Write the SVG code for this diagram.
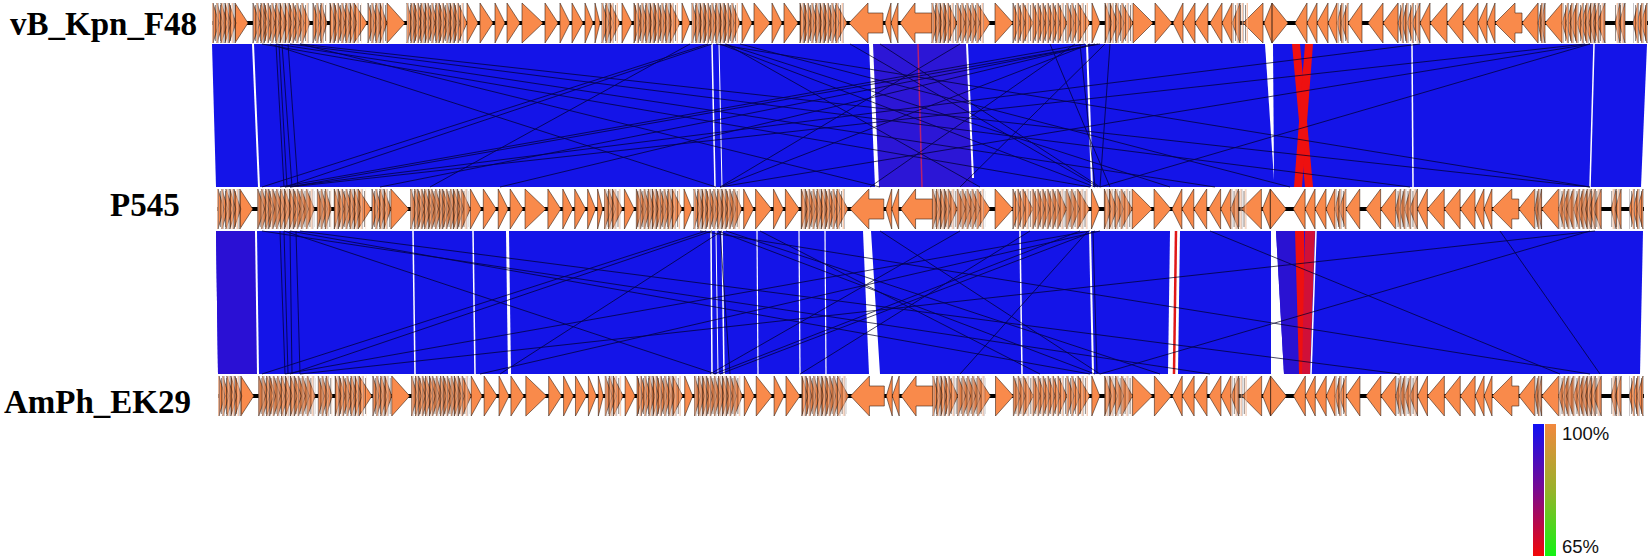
<svg xmlns="http://www.w3.org/2000/svg" xmlns:xlink="http://www.w3.org/1999/xlink" width="1650" height="558" viewBox="0 0 1650 558">
<style>
.lbl{font-family:"Liberation Serif","Times New Roman",serif;font-weight:bold;font-size:33px;fill:#000}
.leg{font-family:"Liberation Sans",Arial,sans-serif;font-size:18.5px;fill:#111}
.gene{fill:#f98a4b;stroke:#3a2418;stroke-width:0.6;stroke-linejoin:miter}
.bb{stroke:#000;stroke-width:4}
.band{fill:#1414e8}
.slit{stroke:#fff;fill:none}
.wgap{fill:#fff}
.red{fill:#ee1010}
.hit{stroke:#00002a;stroke-width:0.9;opacity:0.8;fill:none}
.hatch{fill:url(#hatch)}
</style>
<defs>
<linearGradient id="gBR" x1="0" y1="0" x2="0" y2="1">
<stop offset="0" stop-color="#1010f4"/><stop offset="0.5" stop-color="#7a0a90"/><stop offset="1" stop-color="#f20808"/>
</linearGradient>
<linearGradient id="gOG" x1="0" y1="0" x2="0" y2="1">
<stop offset="0" stop-color="#f2883e"/><stop offset="0.5" stop-color="#98b22a"/><stop offset="1" stop-color="#12f214"/>
</linearGradient>
<pattern id="hatch" patternUnits="userSpaceOnUse" x="0" y="-20" width="5" height="40">
<rect x="1.6" y="0" width="1.4" height="40" fill="#f7b48c" opacity="0.7"/>
<line x1="0.5" y1="2" x2="0.5" y2="38" stroke="#2a1a10" stroke-width="0.6" opacity="0.85"/>
<line x1="3.4" y1="0" x2="3.4" y2="40" stroke="#8c8a92" stroke-width="0.7" opacity="0.8"/>
</pattern>
<g id="genes">
<line class="bb" x1="212" y1="0" x2="1648" y2="0"/>
<path class="gene" d="M213 -20L219 0L213 20ZM217 -20L223 0L217 20ZM221 -20L228 0L221 20ZM225 -20L231 0L225 20ZM229 -20L236 0L229 20ZM235 -20L248 0L235 20Z
M253 -20L260 0L253 20ZM257 -20L264 0L257 20ZM261 -20L268 0L261 20ZM264 -20L270 0L264 20ZM268 -20L275 0L268 20ZM272 -20L279 0L272 20ZM276 -20L283 0L276 20ZM280 -20L287 0L280 20ZM285 -20L292 0L285 20ZM289 -20L296 0L289 20ZM293 -20L300 0L293 20ZM297 -20L304 0L297 20ZM302 -20L310 0L302 20Z
M313 -20L319 0L313 20ZM317 -20L323 0L317 20ZM321 -20L327 0L321 20Z
M330 -20L336 0L330 20ZM334 -20L340 0L334 20ZM338 -20L345 0L338 20ZM342 -20L349 0L342 20ZM346 -20L353 0L346 20ZM350 -20L357 0L350 20ZM354 -20L367 0L354 20Z
M368 -20L374 0L368 20ZM372 -20L378 0L372 20ZM376 -20L383 0L376 20ZM380 -20L387 0L380 20ZM387 -20L405 0L387 20Z
M407 -20L413 0L407 20ZM411 -20L417 0L411 20ZM414 -20L421 0L414 20ZM418 -20L424 0L418 20ZM421 -20L428 0L421 20ZM425 -20L431 0L425 20ZM428 -20L435 0L428 20ZM432 -20L438 0L432 20ZM436 -20L442 0L436 20ZM439 -20L446 0L439 20ZM443 -20L449 0L443 20ZM447 -20L453 0L447 20ZM450 -20L457 0L450 20ZM454 -20L460 0L454 20ZM458 -20L467 0L458 20Z
M467 -20L478 0L467 20ZM480 -20L493 0L480 20ZM495 -20L505 0L495 20ZM507 -20L520 0L507 20ZM522 -20L543 0L522 20ZM545 -20L558 0L545 20ZM560 -20L570 0L560 20ZM572 -20L583 0L572 20ZM585 -20L593 0L585 20ZM595 -20L600 0L595 20Z
M602 -20L609 0L602 20ZM606 -20L613 0L606 20ZM610 -20L620 0L610 20ZM622 -20L632 0L622 20ZM634 -20L640 0L634 20ZM638 -20L644 0L638 20ZM642 -20L648 0L642 20ZM646 -20L652 0L646 20ZM650 -20L656 0L650 20ZM654 -20L660 0L654 20ZM658 -20L664 0L658 20ZM662 -20L668 0L662 20ZM666 -20L672 0L666 20ZM670 -20L680 0L670 20ZM682 -20L690 0L682 20Z
M692 -20L698 0L692 20ZM696 -20L702 0L696 20ZM700 -20L706 0L700 20ZM704 -20L710 0L704 20ZM708 -20L714 0L708 20ZM712 -20L718 0L712 20ZM716 -20L722 0L716 20ZM720 -20L726 0L720 20ZM724 -20L730 0L724 20ZM728 -20L734 0L728 20ZM732 -20L740 0L732 20ZM742 -20L752 0L742 20ZM754 -20L770 0L754 20ZM772 -20L782 0L772 20ZM784 -20L798 0L784 20Z
M800 -20L806 0L800 20ZM804 -20L810 0L804 20ZM808 -20L814 0L808 20ZM812 -20L818 0L812 20ZM816 -20L822 0L816 20ZM820 -20L826 0L820 20ZM824 -20L830 0L824 20ZM828 -20L834 0L828 20ZM832 -20L839 0L832 20ZM836 -20L847 0L836 20Z
M849 0L868 -20L868 -10L883 -10L883 10L868 10L868 20Z
M891 -20L885 0L891 20ZM898 -20L891 0L898 20Z
M900 0L915 -20L915 -10L932 -10L932 10L915 10L915 20Z
M932 -20L938 0L932 20ZM936 -20L942 0L936 20ZM940 -20L946 0L940 20ZM944 -20L950 0L944 20ZM948 -20L957 0L948 20Z
M957 -20L965 0L957 20ZM962 -20L970 0L962 20ZM967 -20L975 0L967 20ZM972 -20L980 0L972 20ZM977 -20L990 0L977 20ZM995 -20L1013 0L995 20Z
M1013 -20L1020 0L1013 20ZM1018 -20L1025 0L1018 20ZM1023 -20L1033 0L1023 20ZM1033 -20L1040 0L1033 20ZM1038 -20L1045 0L1038 20ZM1043 -20L1050 0L1043 20ZM1048 -20L1055 0L1048 20ZM1053 -20L1060 0L1053 20ZM1058 -20L1067 0L1058 20Z
M1067 -20L1074 0L1067 20ZM1072 -20L1080 0L1072 20ZM1078 -20L1090 0L1078 20ZM1092 -20L1100 0L1092 20ZM1105 -20L1112 0L1105 20ZM1110 -20L1118 0L1110 20ZM1116 -20L1124 0L1116 20ZM1122 -20L1133 0L1122 20ZM1133 -20L1153 0L1133 20ZM1155 -20L1172 0L1155 20Z
M1183 -20L1173 0L1183 20ZM1195 -20L1183 0L1195 20ZM1208 -20L1195 0L1208 20ZM1222 -20L1210 0L1222 20ZM1232 -20L1222 0L1232 20ZM1240 -20L1232 0L1240 20ZM1263 -20L1243 0L1263 20ZM1272 -20L1264 0L1272 20ZM1272 -20L1288 0L1272 20Z
M1307 -20L1295 0L1307 20ZM1317 -20L1307 0L1317 20ZM1328 -20L1317 0L1328 20ZM1337 -20L1328 0L1337 20ZM1342 -20L1337 0L1342 20ZM1348 -20L1341 0L1348 20ZM1362 -20L1348 0L1362 20Z
M1383 -20L1368 0L1383 20ZM1398 -20L1383 0L1398 20ZM1403 -20L1398 0L1403 20ZM1407 -20L1402 0L1407 20ZM1413 -20L1407 0L1413 20ZM1420 -20L1412 0L1420 20ZM1430 -20L1420 0L1430 20ZM1447 -20L1430 0L1447 20ZM1463 -20L1447 0L1463 20ZM1478 -20L1463 0L1478 20ZM1487 -20L1478 0L1487 20ZM1495 -20L1487 0L1495 20Z
M1495 0L1515 -20L1515 -10L1522 -10L1522 10L1515 10L1515 20Z
M1538 -20L1522 0L1538 20ZM1542 -20L1538 0L1542 20ZM1545 -20L1541 0L1545 20ZM1562 -20L1545 0L1562 20ZM1568 -20L1562 0L1568 20ZM1572 -20L1566 0L1572 20ZM1577 -20L1570 0L1577 20Z
M1583 -20L1577 0L1583 20ZM1587 -20L1581 0L1587 20ZM1591 -20L1585 0L1591 20ZM1595 -20L1589 0L1595 20ZM1599 -20L1593 0L1599 20ZM1605 -20L1597 0L1605 20Z
M1620 -20L1615 0L1620 20ZM1625 -20L1619 0L1625 20ZM1638 -20L1633 0L1638 20ZM1642 -20L1637 0L1642 20ZM1647 -20L1641 0L1647 20Z"/>
<path class="hatch" d="M212 -20H236V20H212ZM253 -20H310V20H253ZM313 -20H327V20H313ZM330 -20H362V20H330ZM368 -20H386V20H368ZM407 -20H465V20H407ZM602 -20H618V20H602ZM634 -20H678V20H634ZM692 -20H738V20H692ZM800 -20H845V20H800ZM932 -20H956V20H932ZM957 -20H985V20H957ZM1013 -20H1088V20H1013ZM1105 -20H1132V20H1105ZM1232 -20H1248V20H1232ZM1337 -20H1348V20H1337ZM1398 -20H1420V20H1398ZM1538 -20H1545V20H1538ZM1562 -20H1605V20H1562ZM1615 -20H1625V20H1615ZM1633 -20H1647V20H1633Z"/>
</g>
</defs>
<rect width="1650" height="558" fill="#fff"/>

<g id="band_F48_P545">
<polygon class="band" points="212,44 1647,44 1641,187 216,187"/>
<polygon fill="#2c16d6" points="873,44 967,44 973,187 879,187"/>
<line x1="918" y1="44" x2="922" y2="187" stroke="#b8206e" stroke-width="1.5"/>
<line class="slit" x1="253" y1="44" x2="259" y2="187" stroke-width="2"/>
<line class="slit" x1="712" y1="44" x2="715" y2="187" stroke-width="1.5"/>
<line class="slit" x1="719" y1="44" x2="722" y2="187" stroke-width="1"/>
<polygon class="wgap" points="869,44 873,44 879,187 875,187"/>
<line class="slit" x1="967" y1="44" x2="973" y2="178" stroke-width="2"/>
<line class="slit" x1="1087" y1="44" x2="1092" y2="187" stroke-width="2"/>
<polygon class="wgap" points="1265,44 1273,44 1274,180"/>
<line class="slit" x1="1412" y1="44" x2="1413" y2="187" stroke-width="1.5"/>
<line class="slit" x1="1594" y1="44" x2="1590" y2="187" stroke-width="1.5"/>
<polygon class="red" points="1292,44 1300,44 1313,187 1305,187"/>
<polygon class="red" points="1305,44 1313,44 1302,187 1294,187"/>
</g>

<g id="band_P545_EK29">
<polygon class="band" points="216,231 1643,231 1640,374 218,374"/>
<polygon fill="#2a10d4" points="216,231 256,231 258,374 218,374"/>
<line class="slit" x1="256" y1="231" x2="258" y2="374" stroke-width="2"/>
<line class="slit" x1="413" y1="231" x2="415" y2="374" stroke-width="1.5"/>
<line class="slit" x1="473" y1="231" x2="475" y2="374" stroke-width="1.5"/>
<polygon class="wgap" points="506,231 509,231 511,374 508,374"/>
<line class="slit" x1="711" y1="231" x2="712" y2="374" stroke-width="1.5"/>
<line class="slit" x1="716" y1="231" x2="718" y2="374" stroke-width="1"/>
<line class="slit" x1="722" y1="231" x2="724" y2="374" stroke-width="1.5"/>
<line class="slit" x1="757" y1="231" x2="758" y2="374" stroke-width="1.2"/>
<line class="slit" x1="799" y1="231" x2="800" y2="374" stroke-width="1.2"/>
<line class="slit" x1="825" y1="231" x2="826" y2="374" stroke-width="1.2"/>
<polygon class="wgap" points="863,231 871,231 880,374 869,374"/>
<line class="slit" x1="1020" y1="231" x2="1022" y2="374" stroke-width="1.5"/>
<line class="slit" x1="1090" y1="231" x2="1093" y2="374" stroke-width="2"/>
<polygon class="wgap" points="1170,231 1180,231 1178,374 1168,374"/>
<line x1="1176" y1="231" x2="1174" y2="374" stroke="#e01818" stroke-width="2.5"/>
<polygon class="wgap" points="1271,231 1276,231 1284,374 1271,374"/>
<polygon fill="#2a12d2" points="1276,231 1294,231 1299,374 1284,374"/>
<polygon class="red" points="1295,231 1304,231 1306,374 1299,374"/>
<polygon fill="#d01038" points="1305,231 1315,231 1310,374 1302,374"/>
<line class="slit" x1="1316" y1="231" x2="1311" y2="374" stroke-width="1.5"/>
</g>

<g id="connectors">
<g class="hit">
<line x1="276" y1="44" x2="284" y2="187"/>
<line x1="279" y1="44" x2="287" y2="187"/>
<line x1="282" y1="44" x2="292" y2="187"/>
<line x1="288" y1="44" x2="298" y2="187"/>
<line x1="262" y1="44" x2="1090" y2="187"/>
<line x1="270" y1="44" x2="716" y2="187"/>
<line x1="276" y1="44" x2="1215" y2="187"/>
<line x1="300" y1="44" x2="880" y2="187"/>
<line x1="712" y1="44" x2="285" y2="187"/>
<line x1="708" y1="44" x2="262" y2="187"/>
<line x1="720" y1="44" x2="1095" y2="187"/>
<line x1="725" y1="44" x2="1170" y2="187"/>
<line x1="690" y1="44" x2="430" y2="187"/>
<line x1="1085" y1="44" x2="280" y2="187"/>
<line x1="1090" y1="44" x2="720" y2="187"/>
<line x1="1095" y1="44" x2="500" y2="187"/>
<line x1="1100" y1="44" x2="290" y2="187"/>
<line x1="1098" y1="44" x2="380" y2="187"/>
<line x1="1105" y1="44" x2="960" y2="187"/>
<line x1="1110" y1="44" x2="1100" y2="187"/>
<line x1="1080" y1="44" x2="1095" y2="187"/>
<line x1="1075" y1="44" x2="870" y2="187"/>
<line x1="960" y1="44" x2="720" y2="187"/>
<line x1="880" y1="44" x2="1100" y2="187"/>
<line x1="850" y1="44" x2="1098" y2="187"/>
<line x1="1590" y1="44" x2="1100" y2="187"/>
<line x1="1585" y1="44" x2="290" y2="187"/>
<line x1="1590" y1="44" x2="720" y2="187"/>
<line x1="300" y1="44" x2="1590" y2="187"/>
<line x1="1420" y1="44" x2="285" y2="187"/>
<line x1="716" y1="44" x2="1590" y2="187"/>
<line x1="726" y1="44" x2="980" y2="187"/>
<line x1="740" y1="44" x2="1290" y2="187"/>
<line x1="290" y1="44" x2="1410" y2="187"/>
<line x1="1050" y1="44" x2="1110" y2="187"/>
<line x1="280" y1="231" x2="285" y2="374"/>
<line x1="284" y1="231" x2="288" y2="374"/>
<line x1="290" y1="231" x2="292" y2="374"/>
<line x1="296" y1="231" x2="300" y2="374"/>
<line x1="284" y1="231" x2="716" y2="374"/>
<line x1="290" y1="231" x2="1090" y2="374"/>
<line x1="262" y1="231" x2="1210" y2="374"/>
<line x1="712" y1="231" x2="290" y2="374"/>
<line x1="706" y1="231" x2="262" y2="374"/>
<line x1="718" y1="231" x2="1095" y2="374"/>
<line x1="722" y1="231" x2="500" y2="374"/>
<line x1="726" y1="231" x2="1160" y2="374"/>
<line x1="1090" y1="231" x2="285" y2="374"/>
<line x1="1095" y1="231" x2="720" y2="374"/>
<line x1="1100" y1="231" x2="480" y2="374"/>
<line x1="1088" y1="231" x2="960" y2="374"/>
<line x1="1080" y1="231" x2="714" y2="374"/>
<line x1="960" y1="231" x2="710" y2="374"/>
<line x1="880" y1="231" x2="1100" y2="374"/>
<line x1="760" y1="231" x2="1040" y2="374"/>
<line x1="700" y1="231" x2="1590" y2="374"/>
<line x1="1590" y1="231" x2="1100" y2="374"/>
<line x1="1210" y1="231" x2="1560" y2="374"/>
<line x1="1595" y1="231" x2="300" y2="374"/>
<line x1="300" y1="231" x2="1400" y2="374"/>
<line x1="1500" y1="231" x2="1600" y2="374"/>
<line x1="1030" y1="231" x2="800" y2="374"/>
<line x1="720" y1="231" x2="730" y2="374"/>
<line x1="1093" y1="231" x2="1097" y2="374"/>
</g>
</g>

<g id="track_vB_Kpn_F48">
<use href="#genes" xlink:href="#genes" transform="translate(0,23)"/>
<text class="lbl" x="10" y="35">vB_Kpn_F48</text>
</g>
<g id="track_P545">
<use href="#genes" xlink:href="#genes" transform="translate(217,209) scale(0.9937,1) translate(-212,0)"/>
<text class="lbl" x="110" y="216">P545</text>
</g>
<g id="track_AmPh_EK29">
<use href="#genes" xlink:href="#genes" transform="translate(218,396) scale(0.9930,1) translate(-212,0)"/>
<text class="lbl" x="4" y="413">AmPh_EK29</text>
</g>

<g id="legend">
<rect x="1533" y="424" width="11" height="132" fill="url(#gBR)"/>
<rect x="1545" y="424" width="11" height="132" fill="url(#gOG)"/>
<text class="leg" x="1562" y="440">100%</text>
<text class="leg" x="1562" y="553">65%</text>
</g>
</svg>
